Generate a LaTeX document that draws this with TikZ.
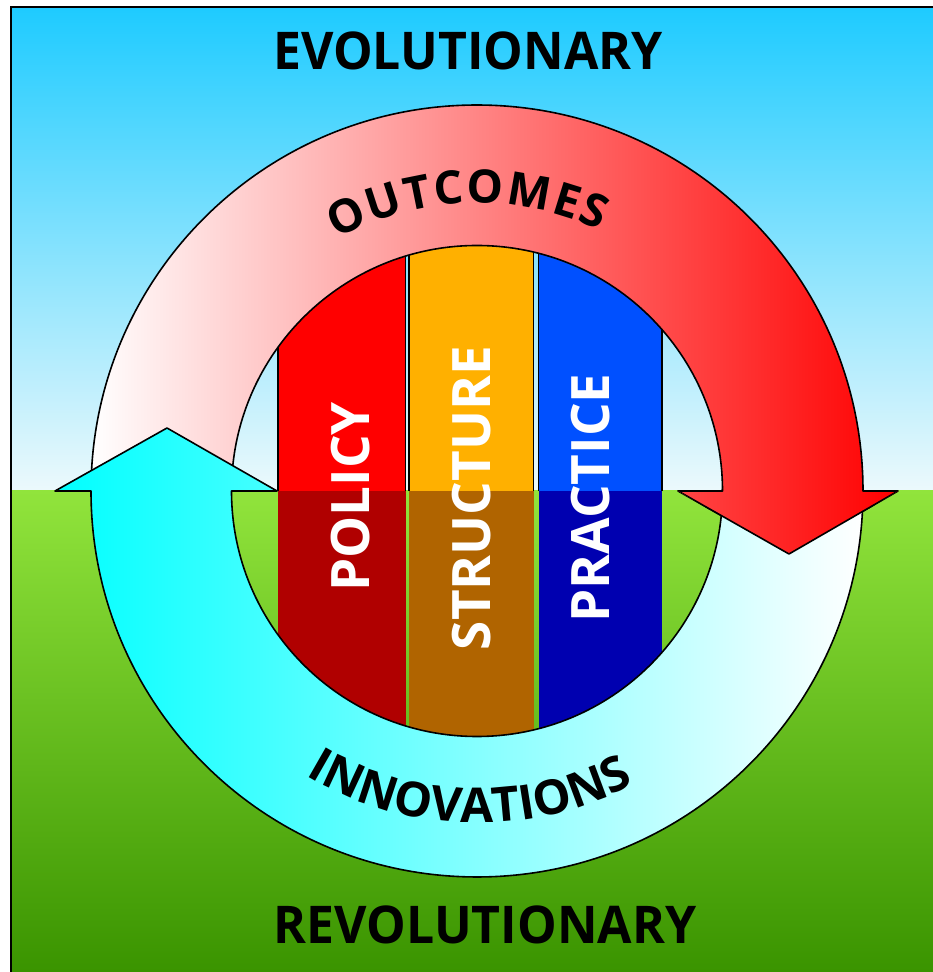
\documentclass[tikz,border=0pt]{standalone}
\usepackage{fontspec}
\setmainfont{Open Sans}
\usetikzlibrary{calc,decorations.text}

\definecolor{skytop}{RGB}{30,203,255}
\definecolor{skylow}{RGB}{236,249,252}
\definecolor{grasstop}{RGB}{145,228,60}
\definecolor{grasslow}{RGB}{58,148,0}
\definecolor{policyup}{RGB}{255,0,0}
\definecolor{policylow}{RGB}{176,0,0}
\definecolor{structup}{RGB}{255,176,0}
\definecolor{structlow}{RGB}{176,100,0}
\definecolor{practup}{RGB}{0,80,255}
\definecolor{practlow}{RGB}{0,0,176}

% outline of the two ring arrows (centre c, radii 386 and 245.5)
\newcommand{\outcomesarrow}{($(c)+(179.4:386)$) arc[start angle=179.4, end angle=0, radius=386]
  -- (898,481) -- (789,418) -- (678,481)
  -- ($(c)+(0:245.5)$) arc[start angle=0, end angle=179.07, radius=245.5] -- cycle}
\newcommand{\innovarrow}{($(c)+(-0.3:386)$) arc[start angle=-0.3, end angle=-180, radius=386]
  -- (55,481) -- (167,544) -- (277,481)
  -- ($(c)+(180:245.5)$) arc[start angle=180, end angle=359.53, radius=245.5] -- cycle}

\tikzset{rim/.style={ % Black edge of the ring arrows
            draw=black,
            line width=1.6pt,
            line join=round},
        outcomes/.style={rim, left color=white, right color=red},
        innovations/.style={rim, left color=cyan, right color=white},
        pillar/.style={ % Upright words in the columns
            white,
            font=\fontsize{53}{53}\selectfont\bfseries,
            rotate=90,
            inner sep=0pt},
        heading/.style={black, font=\fontsize{52}{52}\selectfont\bfseries, inner sep=0pt}
        }

\begin{document}
\begin{tikzpicture}[x=1pt, y=1pt]
    \useasboundingbox (0,0) rectangle (933,972);
    \coordinate (c) at (477,481);

    % sky and ground
    \shade[top color=skytop, bottom color=skylow] (11,481) rectangle (933,965);
    \shade[top color=grasstop, bottom color=grasslow] (11,0) rectangle (933,481);
    \draw[line width=1.5pt] (11,0) -- (11,965) -- (933,965);

    % columns inside the inner disc
    \begin{scope}
        \clip (c) circle[radius=245.5];
        \foreach \xa/\xb/\up/\low in {278/405.5/policyup/policylow,
                                      409/533.5/structup/structlow,
                                      538.5/662/practup/practlow} {
            \fill[\up] (\xa,481) rectangle (\xb,740);
            \fill[\low] (\xa,230) rectangle (\xb,481);
            \draw[line width=1.3pt] (\xa,481) -- (\xa,740) (\xb,481) -- (\xb,740);
        }
    \end{scope}

    \node[pillar] (policy) at (351,475) {POLICY};
    \node[pillar] (structure) at (472,474) {STRUCTURE};
    \node[pillar] (practice) at (591,474) {PRACTICE};

    % ring arrows, red head drawn again over the cyan tail
    \path[outcomes] \outcomesarrow;
    \path[innovations] \innovarrow;
    \begin{scope}
        \clip (675,483) -- (901,483) -- (789,414) -- cycle;
        \path[outcomes] \outcomesarrow;
    \end{scope}

    \path[decorate, decoration={text along path, text align=fit to path,
        text={|\fontsize{46}{46}\selectfont\bfseries|OUTCOMES}}]
        ($(c)+(119.1:288)$) arc[start angle=119.1, end angle=64.7, radius=288];
    \path[decorate, decoration={text along path, text align=fit to path,
        text={|\fontsize{48}{48}\selectfont\bfseries|INNOVATIONS}}]
        ($(c)+(238.9:332)$) arc[start angle=238.9, end angle=298.3, radius=332];

    \node[heading] (evo) at (468,921) {\scalebox{0.96}[1]{EVOLUTIONARY}};
    \node[heading] (revo) at (485,47) {\scalebox{0.96}[1]{REVOLUTIONARY}};
\end{tikzpicture}
\end{document}
